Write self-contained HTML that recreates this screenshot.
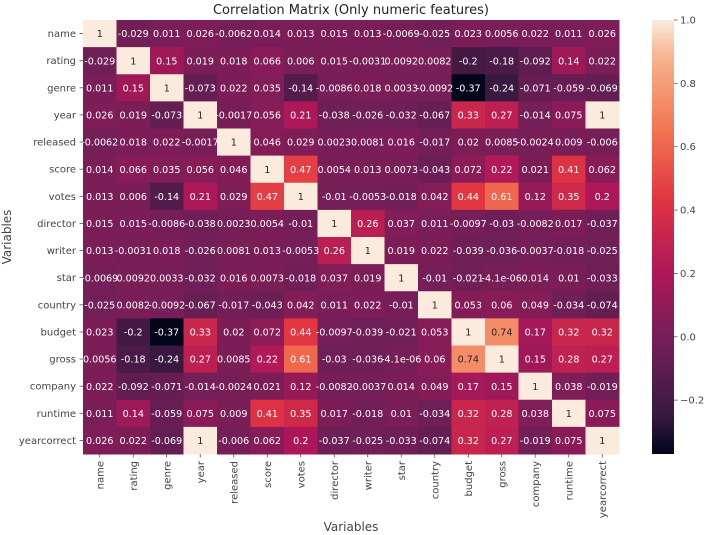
<!DOCTYPE html>
<html><head><meta charset="utf-8">
<style>
html,body{margin:0;padding:0;background:#fff;}
svg{display:block;font-family:"DejaVu Sans","Liberation Sans",sans-serif;}
</style></head>
<body>
<svg id="chart" width="705" height="535" viewBox="0 0 705 535" xmlns="http://www.w3.org/2000/svg">
<rect width="705" height="535" fill="#fff"/>
<text x="351" y="14" text-anchor="middle" font-size="13" fill="#222">Correlation Matrix (Only numeric features)</text>
<g id="cells"></g>
<g id="xticks"></g>
<g id="yticks"></g>
<text x="351" y="531" text-anchor="middle" font-size="12" fill="#444">Variables</text>
<text transform="translate(11,237) rotate(-90)" text-anchor="middle" font-size="12" fill="#444">Variables</text>
<defs>
<linearGradient id="rocket" x1="0" y1="1" x2="0" y2="0"></linearGradient>
</defs>
<rect x="652" y="20" width="22" height="434" fill="url(#rocket)"/>
<g id="cbticks"></g>
</svg>
<script>
const labels = ["name","rating","genre","year","released","score","votes","director","writer","star","country","budget","gross","company","runtime","yearcorrect"];
const r_name = [1,-0.029,0.011,0.026,-0.0062,0.014,0.013,0.015,0.013,-0.0069,-0.025,0.023,0.0056,0.022,0.011,0.026];
const r_rating = [-0.029,1,0.15,0.019,0.018,0.066,0.006,0.015,-0.0031,0.0092,0.0082,-0.2,-0.18,-0.092,0.14,0.022];
const r_genre = [0.011,0.15,1,-0.073,0.022,0.035,-0.14,-0.0086,0.018,0.0033,-0.0092,-0.37,-0.24,-0.071,-0.059,-0.069];
const r_year = [0.026,0.019,-0.073,1,-0.0017,0.056,0.21,-0.038,-0.026,-0.032,-0.067,0.33,0.27,-0.014,0.075,1];
const r_released = [-0.0062,0.018,0.022,-0.0017,1,0.046,0.029,0.0023,0.0081,0.016,-0.017,0.02,0.0085,-0.0024,0.009,-0.006];
const r_score = [0.014,0.066,0.035,0.056,0.046,1,0.47,0.0054,0.013,0.0073,-0.043,0.072,0.22,0.021,0.41,0.062];
const r_votes = [0.013,0.006,-0.14,0.21,0.029,0.47,1,-0.01,-0.0053,-0.018,0.042,0.44,0.61,0.12,0.35,0.2];
const r_director = [0.015,0.015,-0.0086,-0.038,0.0023,0.0054,-0.01,1,0.26,0.037,0.011,-0.0097,-0.03,-0.0082,0.017,-0.037];
const r_writer = [0.013,-0.0031,0.018,-0.026,0.0081,0.013,-0.0053,0.26,1,0.019,0.022,-0.039,-0.036,-0.0037,-0.018,-0.025];
const r_star = [-0.0069,0.0092,0.0033,-0.032,0.016,0.0073,-0.018,0.037,0.019,1,-0.01,-0.021,-4.1e-06,0.014,0.01,-0.033];
const r_country = [-0.025,0.0082,-0.0092,-0.067,-0.017,-0.043,0.042,0.011,0.022,-0.01,1,0.053,0.06,0.049,-0.034,-0.074];
const r_budget = [0.023,-0.2,-0.37,0.33,0.02,0.072,0.44,-0.0097,-0.039,-0.021,0.053,1,0.74,0.17,0.32,0.32];
const r_gross = [0.0056,-0.18,-0.24,0.27,0.0085,0.22,0.61,-0.03,-0.036,-4.1e-06,0.06,0.74,1,0.15,0.28,0.27];
const r_company = [0.022,-0.092,-0.071,-0.014,-0.0024,0.021,0.12,-0.0082,-0.0037,0.014,0.049,0.17,0.15,1,0.038,-0.019];
const r_runtime = [0.011,0.14,-0.059,0.075,0.009,0.41,0.35,0.017,-0.018,0.01,-0.034,0.32,0.28,0.038,1,0.075];
const r_yearcorrect = [0.026,0.022,-0.069,1,-0.006,0.062,0.2,-0.037,-0.025,-0.033,-0.074,0.32,0.27,-0.019,0.075,1];
const matrix = [r_name,r_rating,r_genre,r_year,r_released,r_score,r_votes,r_director,r_writer,r_star,r_country,r_budget,r_gross,r_company,r_runtime,r_yearcorrect];
const cbTicks = [1.0,0.8,0.6,0.4,0.2,0.0,-0.2];
const cbTickLabels = ["1.0","0.8","0.6","0.4","0.2","0.0","−0.2"];

const NS="http://www.w3.org/2000/svg";
const X0=83,X1=619,Y0=20,Y1=454;
const n=labels.length, cw=(X1-X0)/n, ch=(Y1-Y0)/n;
let vmin=Infinity,vmax=-Infinity;
matrix.forEach(r=>r.forEach(v=>{vmin=Math.min(vmin,v);vmax=Math.max(vmax,v);}));
const stops=[[0,"#03051a"],[0.083,"#35193e"],[0.25,"#701f57"],[0.417,"#ad1759"],[0.583,"#e13342"],[0.75,"#f37651"],[0.917,"#f6b48f"],[1,"#faebdd"]];
function hex(h){return [1,3,5].map(i=>parseInt(h.substr(i,2),16));}
function cmap(t){t=Math.max(0,Math.min(1,t));
 for(let i=1;i<stops.length;i++){if(t<=stops[i][0]){const a=stops[i-1],b=stops[i];const f=(t-a[0])/(b[0]-a[0]);const ca=hex(a[1]),cb=hex(b[1]);return "rgb("+ca.map((c,k)=>Math.round(c+(cb[k]-c)*f)).join(",")+")";}}
 return stops[stops.length-1][1];}
function norm(v){return (v-vmin)/(vmax-vmin);}
function xPos(j){return X0+j*cw;}
function yPos(i){return Y0+i*ch;}
const cells=document.getElementById("cells");
matrix.forEach((row,i)=>row.forEach((v,j)=>{
 const r=document.createElementNS(NS,"rect");
 
 
 r.setAttribute("x",xPos(j));r.setAttribute("y",yPos(i));
 r.setAttribute("width",cw+0.5);r.setAttribute("height",ch+0.5);
 r.setAttribute("fill",cmap(norm(v)));
 cells.appendChild(r);
}));
matrix.forEach((row,i)=>row.forEach((v,j)=>{
 const t=document.createElementNS(NS,"text");
 
 
 t.setAttribute("x",xPos(j)+cw/2);t.setAttribute("y",yPos(i)+ch/2+3.6);
 t.setAttribute("text-anchor","middle");t.setAttribute("font-size","9.6");
 t.setAttribute("fill",norm(v)>0.75?"#262626":"#ffffff");
 let s;
 if(Math.abs(v)<1e-4&&v!==0){s=(v<0?"-":"")+Math.abs(v).toExponential(1).replace("e-","e-0");}else{s=String(v);}
 t.textContent=s;
 cells.appendChild(t);
}));
const xt=document.getElementById("xticks"), yt=document.getElementById("yticks");
labels.forEach((l,k)=>{
 const cx=xPos(k)+cw/2;
 const tk=document.createElementNS(NS,"line");
 
 
 tk.setAttribute("x1",cx);tk.setAttribute("x2",cx);tk.setAttribute("y1",Y1);tk.setAttribute("y2",Y1+3.5);tk.setAttribute("stroke","#555");tk.setAttribute("stroke-width","0.8");
 xt.appendChild(tk);
 const t=document.createElementNS(NS,"text");
 
 
 t.setAttribute("transform","translate("+(cx+3.5)+","+(Y1+7)+") rotate(-90)");
 t.setAttribute("text-anchor","end");t.setAttribute("font-size","10");t.setAttribute("fill","#444");
 t.textContent=l; xt.appendChild(t);
 const cy=yPos(k)+ch/2;
 const tk2=document.createElementNS(NS,"line");
 
 
 tk2.setAttribute("x1",X0-3.5);tk2.setAttribute("x2",X0);tk2.setAttribute("y1",cy);tk2.setAttribute("y2",cy);tk2.setAttribute("stroke","#555");tk2.setAttribute("stroke-width","0.8");
 yt.appendChild(tk2);
 const t2=document.createElementNS(NS,"text");
 
 
 t2.setAttribute("x",X0-7);t2.setAttribute("y",cy+3.5);
 t2.setAttribute("text-anchor","end");t2.setAttribute("font-size","10");t2.setAttribute("fill","#444");
 t2.textContent=l; yt.appendChild(t2);
});
const grad=document.getElementById("rocket");
for(let k=0;k<=40;k++){const s=document.createElementNS(NS,"stop");s.setAttribute("offset",k/40);s.setAttribute("stop-color",cmap(k/40));grad.appendChild(s);}
const cb=document.getElementById("cbticks");
function cbY(v){return Y1-(v-vmin)/(vmax-vmin)*(Y1-Y0);}
cbTicks.forEach((v,k)=>{
 const y=cbY(v);
 const l=document.createElementNS(NS,"line");
 
 
 l.setAttribute("x1",674);l.setAttribute("x2",677.5);l.setAttribute("y1",y);l.setAttribute("y2",y);l.setAttribute("stroke","#555");l.setAttribute("stroke-width","0.8");
 cb.appendChild(l);
 const t=document.createElementNS(NS,"text");
 
 
 t.setAttribute("x",680);t.setAttribute("y",y+3.5);t.setAttribute("font-size","10");t.setAttribute("fill","#444");
 t.textContent=cbTickLabels[k]; cb.appendChild(t);
});
</script>
</body></html>
